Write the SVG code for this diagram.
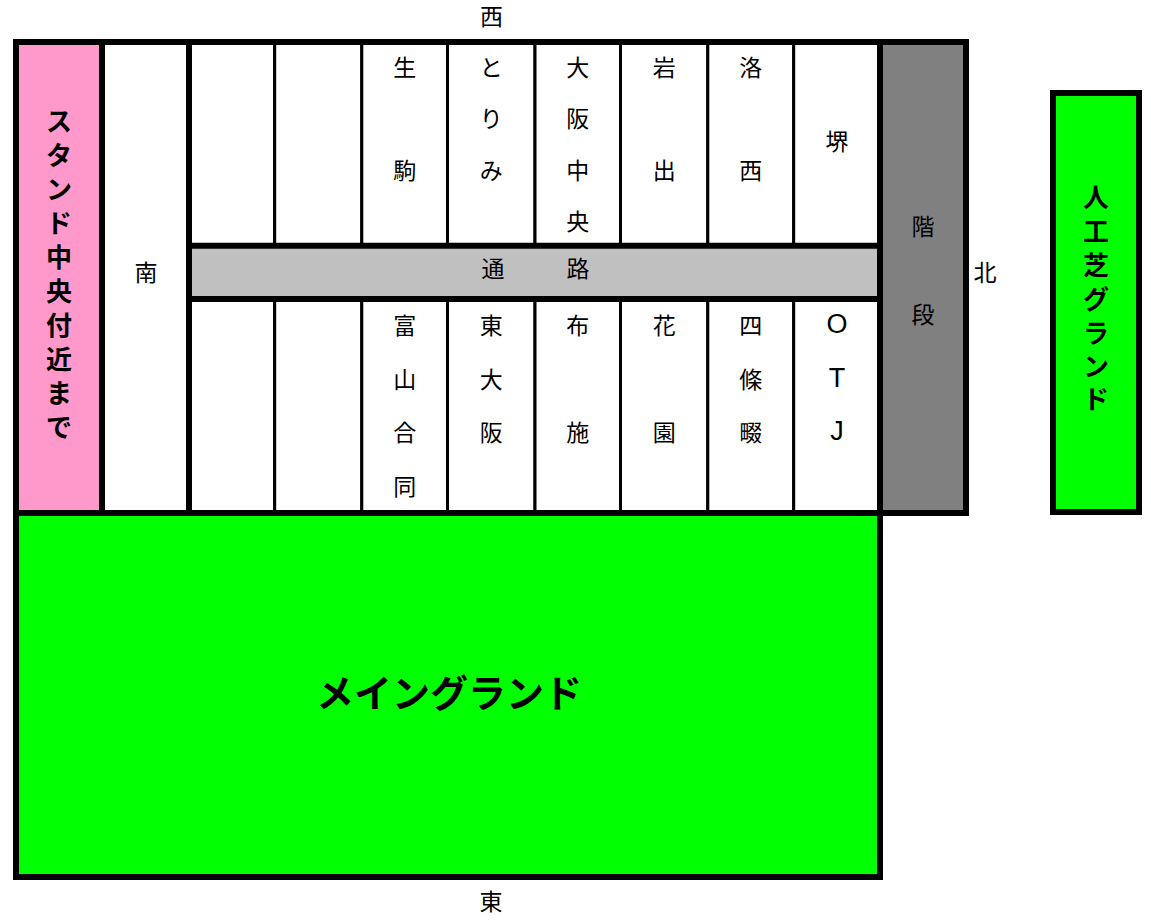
<svg xmlns="http://www.w3.org/2000/svg" width="1151" height="922" viewBox="0 0 1151 922">
<style>
.t{font-family:"Noto Sans CJK JP","Liberation Sans",sans-serif;font-size:23px;fill:#000;text-anchor:middle;dominant-baseline:central;transform:translate(0px,-3px)}
.lat{font-family:"Liberation Sans",Arial,sans-serif;font-size:27px}
.b{font-weight:bold;font-size:26px}
.big{font-weight:bold;font-size:38px}
.cell{fill:#fff;stroke:#000;stroke-width:3}
.thick{stroke:#000;stroke-width:6;fill:none}
</style>
<rect width="1151" height="922" fill="#fff"/>
<g id="stand"><rect x="19" y="45" width="80" height="465" fill="#FF99CC"/>
<text class="t b" x="59 59 59 59 59 59 59 59 59 59" y="122 156 190 224 258 292 326 360 394 428">スタンド中央付近まで</text></g>
<g id="south"><rect x="102" y="42" width="87" height="471" fill="#fff"/>
<text class="t" x="146" y="274">南</text></g>
<g id="stairs"><rect x="880" y="42" width="86" height="471" fill="#808080"/>
<text class="t" x="923" y="228">階</text><text class="t" x="923" y="316">段</text></g>
<g id="passage"><rect x="189" y="245.7" width="691" height="53.3" fill="#C0C0C0"/>
<text class="t" x="493 578" y="269.5">通路</text></g>
<g id="cells-top">
<g id="c-t1"><rect class="cell" x="189" y="42" width="85.7" height="203.7"/></g>
<g id="c-t2"><rect class="cell" x="274.7" y="42" width="87.1" height="203.7"/></g>
<g id="c-t3"><rect class="cell" x="361.8" y="42" width="85.7" height="203.7"/><text class="t" x="404.7 404.7" y="68.5 171.5">生駒</text></g>
<g id="c-t4"><rect class="cell" x="447.5" y="42" width="87.5" height="203.7"/><text class="t" x="491.3 491.3 491.3" y="68.5 120 171.5">とりみ</text></g>
<g id="c-t5"><rect class="cell" x="535" y="42" width="85.5" height="203.7"/><text class="t" x="577.8 577.8 577.8 577.8" y="68.5 120 171.5 223">大阪中央</text></g>
<g id="c-t6"><rect class="cell" x="620.5" y="42" width="87.3" height="203.7"/><text class="t" x="664.2 664.2" y="68.5 171.5">岩出</text></g>
<g id="c-t7"><rect class="cell" x="707.8" y="42" width="85.9" height="203.7"/><text class="t" x="750.8 750.8" y="68.5 171.5">洛西</text></g>
<g id="c-t8"><rect class="cell" x="793.7" y="42" width="86.3" height="203.7"/><text class="t" x="836.9" y="143">堺</text></g>
</g>
<g id="cells-bottom">
<g id="c-b1"><rect class="cell" x="189" y="299" width="85.7" height="214"/></g>
<g id="c-b2"><rect class="cell" x="274.7" y="299" width="87.1" height="214"/></g>
<g id="c-b3"><rect class="cell" x="361.8" y="299" width="85.7" height="214"/><text class="t" x="404.7 404.7 404.7 404.7" y="326.5 380.5 434 487.5">富山合同</text></g>
<g id="c-b4"><rect class="cell" x="447.5" y="299" width="87.5" height="214"/><text class="t" x="491.3 491.3 491.3" y="326.5 380.5 434">東大阪</text></g>
<g id="c-b5"><rect class="cell" x="535" y="299" width="85.5" height="214"/><text class="t" x="577.8 577.8" y="326.5 434">布施</text></g>
<g id="c-b6"><rect class="cell" x="620.5" y="299" width="87.3" height="214"/><text class="t" x="664.2 664.2" y="326.5 434">花園</text></g>
<g id="c-b7"><rect class="cell" x="707.8" y="299" width="85.9" height="214"/><text class="t" x="750.8 750.8 750.8" y="326.5 380.5 434">四條畷</text></g>
<g id="c-b8"><rect class="cell" x="793.7" y="299" width="86.3" height="214"/><text class="t lat" x="836.9 836.9 836.9" y="327 380.5 434">OTJ</text></g>
</g>
<g id="frame">
<rect class="thick" x="16" y="42" width="950" height="471"/>
<line class="thick" x1="102" y1="42" x2="102" y2="513"/>
<line class="thick" x1="189" y1="42" x2="189" y2="513"/>
<line class="thick" x1="880" y1="42" x2="880" y2="513"/>
<line class="thick" x1="189" y1="245.7" x2="880" y2="245.7"/>
<line class="thick" x1="189" y1="299" x2="880" y2="299"/>
</g>
<g id="main-ground"><rect x="16" y="513" width="864" height="364" fill="#00FF00" stroke="#000" stroke-width="6"/>
<text class="t big" x="449" y="693">メイングランド</text></g>
<g id="turf-ground"><rect x="1053" y="93" width="86" height="419" fill="#00FF00" stroke="#000" stroke-width="6"/>
<text class="t b" x="1096 1096 1096 1096 1096 1096 1096" y="198 232 266 300 334 367 400">人工芝グランド</text></g>
<g id="labels">
<text class="t" x="491.5" y="17.5">西</text>
<text class="t" x="491" y="903">東</text>
<text class="t" x="985" y="274">北</text>
</g>
</svg>
